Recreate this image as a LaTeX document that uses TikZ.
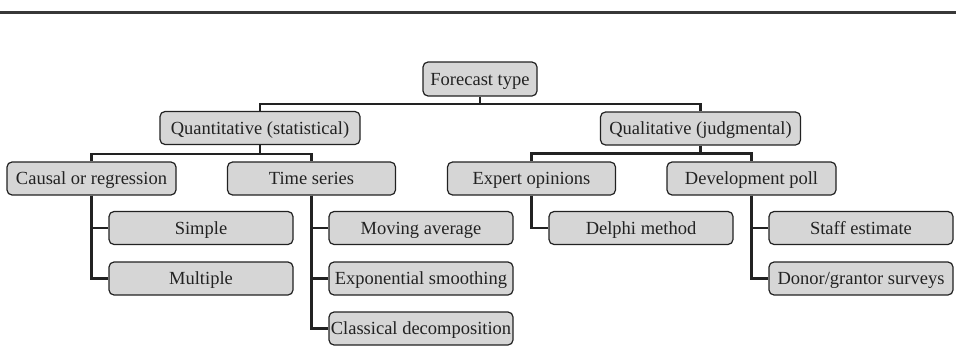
\documentclass[tikz,border=0pt]{standalone}
\usepackage{fontspec}
\setmainfont{Liberation Serif}
\definecolor{boxfill}{HTML}{D6D6D6}
\definecolor{ink}{HTML}{222222}
\begin{document}
\begin{tikzpicture}[x=1pt,y=-1pt,
  fbox/.style={draw=ink, fill=boxfill, rounded corners=5pt, line width=1.2pt,
    inner sep=0pt, minimum height=33pt, text=ink,
    font=\fontsize{18.5}{20}\selectfont, text height=12.3pt, text depth=0pt},
  conn/.style={draw=ink, line width=2.4pt}]
\useasboundingbox (0,0) rectangle (956,364);
\draw[draw=ink!90, line width=3pt] (0,12) -- (956,12);
% level 0
\node[fbox, minimum width=114pt, minimum height=34pt] (ft) at (480,79) {Forecast type};
% level 1
\node[fbox, minimum width=200pt] (quant) at (260,128) {Quantitative (statistical)};
\node[fbox, minimum width=200pt] (qual) at (700.5,128.5) {Qualitative (judgmental)};
% level 2
\node[fbox, minimum width=169pt] (causal) at (91.5,178.5) {Causal or regression};
\node[fbox, minimum width=168pt] (ts) at (311.5,178.5) {Time series};
\node[fbox, minimum width=168pt] (expert) at (531.5,178.5) {Expert opinions};
\node[fbox, minimum width=169pt] (dev) at (751.5,178.5) {Development poll};
% level 3
\node[fbox, minimum width=184pt] (simple) at (201,228) {Simple};
\node[fbox, minimum width=184pt] (multiple) at (201,278.5) {Multiple};
\node[fbox, minimum width=184pt] (mavg) at (421,228) {Moving average};
\node[fbox, minimum width=184pt] (expsm) at (421,278.5) {Exponential smoothing};
\node[fbox, minimum width=184pt] (classical) at (421,328.5) {Classical decomposition};
\node[fbox, minimum width=184pt] (delphi) at (641,228) {Delphi method};
\node[fbox, minimum width=184pt] (staff) at (861,228) {Staff estimate};
\node[fbox, minimum width=184pt] (donor) at (861,278.5) {Donor/grantor surveys};
% connectors level 0 -> 1
\draw[conn] (ft.south) -- ++(0,7.5) coordinate (j0);
\draw[conn] (quant.north) |- (j0) -| (qual.north);
% level 1 -> 2
\draw[conn] (quant.south) -- ++(0,8.7) coordinate (j1);
\draw[conn] (causal.north) |- (j1) -| (ts.north);
\draw[conn] (qual.south) -- ++(0,7.8) coordinate (j2);
\draw[conn] (expert.north) |- (j2) -| (dev.north);
% level 2 -> 3
\draw[conn] (causal.south) |- (simple.west);
\draw[conn] (causal.south) |- (multiple.west);
\draw[conn] (ts.south) |- (mavg.west);
\draw[conn] (ts.south) |- (expsm.west);
\draw[conn] (ts.south) |- (classical.west);
\draw[conn] (expert.south) |- (delphi.west);
\draw[conn] (dev.south) |- (staff.west);
\draw[conn] (dev.south) |- (donor.west);
% redraw boxes on top
\end{tikzpicture}
\end{document}
